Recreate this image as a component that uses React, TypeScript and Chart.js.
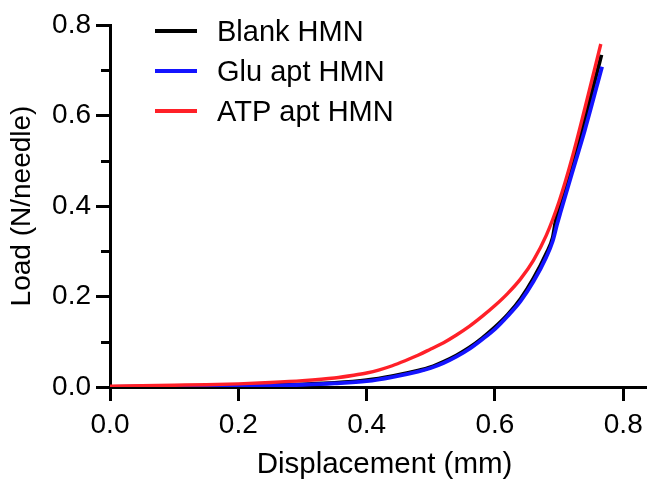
import { useEffect, useRef } from 'react';
import { Chart, registerables } from 'chart.js';

Chart.register(...registerables);

// ---- Data ----
const seriesLabels = ['Blank HMN', 'Glu apt HMN', 'ATP apt HMN'];

const blankDisp = [0, 0.05, 0.1, 0.15, 0.2, 0.25, 0.3, 0.35, 0.4, 0.44, 0.48, 0.5, 0.52, 0.54, 0.56, 0.58, 0.6, 0.62, 0.64, 0.66, 0.68, 0.69, 0.695, 0.7, 0.72, 0.74, 0.766];
const blankLoad = [0, 0.0005, 0.001, 0.002, 0.003, 0.004, 0.006, 0.009, 0.015, 0.024, 0.036, 0.044, 0.056, 0.07, 0.087, 0.108, 0.132, 0.16, 0.195, 0.24, 0.295, 0.33, 0.37, 0.39, 0.487, 0.59, 0.734];

const gluDisp = [0, 0.05, 0.1, 0.15, 0.2, 0.25, 0.3, 0.35, 0.4, 0.44, 0.48, 0.5, 0.52, 0.54, 0.56, 0.58, 0.6, 0.62, 0.64, 0.66, 0.68, 0.69, 0.697, 0.702, 0.72, 0.74, 0.767];
const gluLoad = [0, 0.0005, 0.001, 0.0015, 0.0025, 0.0035, 0.005, 0.008, 0.013, 0.022, 0.034, 0.042, 0.053, 0.067, 0.084, 0.105, 0.128, 0.157, 0.19, 0.233, 0.287, 0.322, 0.36, 0.385, 0.472, 0.567, 0.708];

const atpDisp = [0, 0.05, 0.1, 0.15, 0.2, 0.25, 0.3, 0.35, 0.38, 0.4, 0.42, 0.44, 0.46, 0.48, 0.5, 0.52, 0.54, 0.56, 0.58, 0.6, 0.62, 0.64, 0.66, 0.68, 0.7, 0.72, 0.74, 0.765];
const atpLoad = [0.002, 0.003, 0.004, 0.005, 0.007, 0.01, 0.014, 0.02, 0.026, 0.031, 0.038, 0.047, 0.058, 0.07, 0.084, 0.098, 0.115, 0.134, 0.156, 0.18, 0.207, 0.239, 0.28, 0.335, 0.41, 0.505, 0.615, 0.758];

const xTicks = [0, 0.2, 0.4, 0.6, 0.8];
const yTicks = [0, 0.2, 0.4, 0.6, 0.8];
const yMinorTicks = [0.1, 0.3, 0.5, 0.7];

const xTitle = 'Displacement (mm)';
const yTitle = 'Load (N/needle)';

const seriesColors = ['#000000', '#1414ff', '#ff2028'];

const FONT = '"Liberation Sans", Arial, Helvetica, sans-serif';

function toPoints(xs: number[], ys: number[]) {
  return xs.map((x, i) => ({ x, y: ys[i] }));
}

const minorTickPlugin = {
  id: 'minorTicks',
  afterDraw(chart: any) {
    const y = chart.scales.y;
    const ctx = chart.ctx;
    ctx.save();
    ctx.strokeStyle = '#000';
    ctx.lineWidth = 3;
    yMinorTicks.forEach((v) => {
      const py = Math.round(y.getPixelForValue(v)) + 0.5;
      ctx.beginPath();
      ctx.moveTo(y.right - 9, py);
      ctx.lineTo(y.right, py);
      ctx.stroke();
    });
    ctx.restore();
  },
};

const xTitlePlugin = {
  id: 'xTitle',
  afterDraw(chart: any) {
    const x = chart.scales.x;
    const ctx = chart.ctx;
    ctx.save();
    ctx.font = `29.5px ${FONT}`;
    ctx.fillStyle = '#000';
    ctx.textAlign = 'center';
    ctx.textBaseline = 'middle';
    ctx.fillText(xTitle, (x.left + x.right) / 2 + 6, x.bottom - 16);
    ctx.restore();
  },
};

const legendPlugin = {
  id: 'insideLegend',
  afterDraw(chart: any) {
    const ctx = chart.ctx;
    ctx.save();
    ctx.font = `29px ${FONT}`;
    ctx.textBaseline = 'middle';
    ctx.textAlign = 'left';
    chart.data.datasets.forEach((ds: any, i: number) => {
      const cy = 31 + i * 40;
      ctx.strokeStyle = ds.borderColor;
      ctx.lineWidth = 4;
      ctx.beginPath();
      ctx.moveTo(155, cy);
      ctx.lineTo(197, cy);
      ctx.stroke();
      ctx.fillStyle = '#000';
      ctx.fillText(ds.label, 217, cy + 2);
    });
    ctx.restore();
  },
};

export default function App() {
  const ref = useRef<HTMLCanvasElement | null>(null);

  useEffect(() => {
    if (!ref.current) return;
    const data = [
      toPoints(blankDisp, blankLoad),
      toPoints(gluDisp, gluLoad),
      toPoints(atpDisp, atpLoad),
    ];
    const orders = [2, 1, 0];
    const chart = new Chart(ref.current, {
      type: 'line',
      data: {
        datasets: seriesLabels.map((label, i) => ({
          label,
          data: data[i],
          borderColor: seriesColors[i],
          backgroundColor: seriesColors[i],
          borderWidth: i === 2 ? 3.4 : 3.8,
          pointRadius: 0,
          fill: false,
          cubicInterpolationMode: 'monotone' as const,
          order: orders[i],
        })),
      },
      options: {
        animation: false,
        responsive: false,
        devicePixelRatio: 1,
        layout: { padding: { top: 25, left: 0, right: 0, bottom: 0 } },
        plugins: {
          legend: { display: false },
          tooltip: { enabled: false },
        },
        scales: {
          x: {
            type: 'linear',
            min: 0,
            max: 0.837,
            afterBuildTicks: (s: any) => {
              s.ticks = xTicks.map((v) => ({ value: v }));
            },
            afterFit: (s: any) => {
              s.height = 94;
              s.paddingRight = 0;
            },
            ticks: {
              font: { family: FONT, size: 28 },
              color: '#000',
              padding: 7,
              maxRotation: 0,
              autoSkip: false,
              callback: (v: any) => Number(v).toFixed(1),
            },
            grid: {
              display: true,
              drawOnChartArea: false,
              drawTicks: true,
              tickLength: 14,
              tickWidth: 3,
              tickColor: '#000',
              color: '#000',
              lineWidth: 3,
            },
            border: { display: true, color: '#000', width: 3 },
            title: { display: false, text: xTitle },
          },
          y: {
            type: 'linear',
            min: 0,
            max: 0.8,
            afterBuildTicks: (s: any) => {
              s.ticks = yTicks.map((v) => ({ value: v }));
            },
            afterFit: (s: any) => {
              s.width = 110;
            },
            ticks: {
              font: { family: FONT, size: 28 },
              color: '#000',
              padding: 5,
              autoSkip: false,
              callback: (v: any) => Number(v).toFixed(1),
            },
            grid: {
              display: true,
              drawOnChartArea: false,
              drawTicks: true,
              tickLength: 14,
              tickWidth: 3,
              tickColor: '#000',
              color: '#000',
              lineWidth: 3,
            },
            border: { display: true, color: '#000', width: 3 },
            title: {
              display: true,
              text: yTitle,
              color: '#000',
              font: { family: FONT, size: 28 },
              padding: { top: 5, bottom: 0 },
            },
          },
        },
      },
      plugins: [minorTickPlugin, xTitlePlugin, legendPlugin],
    });
    return () => chart.destroy();
  }, []);

  return (
    <div style={{ position: 'fixed', left: 0, top: 0, width: 647, height: 481, background: '#fff' }}>
      <canvas ref={ref} width={647} height={481} style={{ display: 'block' }} />
    </div>
  );
}
